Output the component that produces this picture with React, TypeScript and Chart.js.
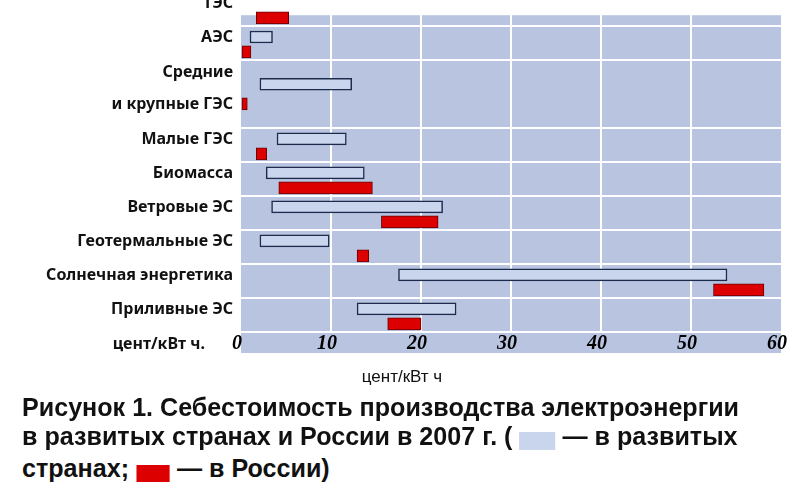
import React, { useEffect, useMemo, useRef } from 'react';
import { Chart, registerables } from 'chart.js';

Chart.register(...registerables);

// ---------- data ----------
const categories: (string | string[])[] = [
  'ТЭС',
  'АЭС',
  ['Средние', 'и крупные ГЭС'],
  'Малые ГЭС',
  'Биомасса',
  'Ветровые ЭС',
  'Геотермальные ЭС',
  'Солнечная энергетика',
  'Приливные ЭС',
];
const rowSpans = [1, 1, 2, 1, 1, 1, 1, 1, 1];
const developedLow: (number | null)[] = [null, 1.0, 2.1, 4.0, 2.8, 3.4, 2.1, 17.5, 12.9];
const developedHigh: (number | null)[] = [null, 3.5, 12.3, 11.7, 13.7, 22.4, 9.8, 54.0, 23.9];
const russiaLow = [1.7, 0, 0, 1.7, 4.2, 15.6, 12.9, 52.5, 16.3];
const russiaHigh = [5.3, 1.1, 0.7, 2.85, 14.6, 21.9, 14.2, 58.1, 20.0];
const xTickValues = [0, 10, 20, 30, 40, 50, 60];
const unitTitle = 'цент/кВт ч';
const unitSideLabel = 'цент/кВт ч.';
const captionLine1 = 'Рисунок 1. Себестоимость производства электроэнергии';
const captionLine2a = 'в развитых странах и России в 2007 г. (';
const captionLine2b = '— в развитых';
const captionLine3a = 'странах;';
const captionLine3b = '— в России)';

// ---------- styles ----------
const PLOT_BG = '#b9c5e0';
const DEV_FILL = '#c9d5ec';
const DEV_BORDER = '#1c2a4c';
const RUS_FILL = '#dc0000';
const RUS_BORDER = '#6a0000';
const CAPTION_FONT = "'Liberation Sans', Arial, sans-serif";
const LABEL_FONT = "'Noto Sans', 'DejaVu Sans', sans-serif";

const FIRST_ROW = -1;
const Y_MIN = -1.15;
const PLOT_TOP_VALUE = -0.32;

export default function App() {
  const ref = useRef<HTMLCanvasElement>(null);

  const k = useMemo(() => {
    const c = document.createElement('canvas').getContext('2d');
    if (!c) return 1;
    c.font = `bold 25px ${CAPTION_FONT}`;
    const w = c.measureText(captionLine1).width;
    return w > 0 ? 717 / w : 1;
  }, []);

  useEffect(() => {
    const starts: number[] = [];
    let s = FIRST_ROW;
    rowSpans.forEach((sp) => {
      starts.push(s);
      s += sp;
    });
    const yMax = s;
    const devOff = (sp: number) => (sp === 1 ? 0.32 : 0.71);
    const rusOff = (sp: number) => (sp === 1 ? 0.76 : 1.29);
    const lblOff = (sp: number) => (sp === 1 ? 0.33 : 0.82);

    const devData: any[] = [];
    const rusData: any[] = [];
    categories.forEach((_, i) => {
      const lo = developedLow[i];
      const hi = developedHigh[i];
      if (lo !== null && hi !== null) devData.push({ y: starts[i] + devOff(rowSpans[i]), x: [lo, hi] });
      rusData.push({ y: starts[i] + rusOff(rowSpans[i]), x: [russiaLow[i], russiaHigh[i]] });
    });

    const tickDefs: { value: number; label: string | string[]; grid: boolean }[] = [];
    categories.forEach((c, i) => {
      tickDefs.push({ value: starts[i] + lblOff(rowSpans[i]), label: c, grid: false });
      if (starts[i] >= 0) tickDefs.push({ value: starts[i], label: '', grid: true });
    });
    tickDefs.push({ value: yMax, label: '', grid: true });
    tickDefs.sort((a, b) => a.value - b.value);

    const bgPlugin = {
      id: 'plotBg',
      beforeDraw(chart: any) {
        const { ctx, chartArea, scales } = chart;
        const top = scales.y.getPixelForValue(PLOT_TOP_VALUE);
        ctx.save();
        ctx.fillStyle = PLOT_BG;
        ctx.fillRect(chartArea.left, top, chartArea.right - chartArea.left, chartArea.bottom + 21 - top);
        ctx.restore();
      },
    };

    const chart = new Chart(ref.current!, {
      type: 'bar',
      data: {
        datasets: [
          {
            label: 'в развитых странах',
            data: devData,
            backgroundColor: DEV_FILL,
            borderColor: DEV_BORDER,
            borderWidth: 1.5,
            borderSkipped: false,
            barThickness: 12,
            grouped: false,
          } as any,
          {
            label: 'в России',
            data: rusData,
            backgroundColor: RUS_FILL,
            borderColor: RUS_BORDER,
            borderWidth: 1,
            borderSkipped: false,
            barThickness: 12,
            grouped: false,
          } as any,
        ],
      },
      options: {
        indexAxis: 'y',
        responsive: false,
        animation: false,
        devicePixelRatio: 1,
        layout: { padding: { top: 70, right: 19, bottom: 40, left: 0 } },
        plugins: {
          legend: { display: false },
          tooltip: { enabled: false },
          title: { display: false },
        },
        scales: {
          x: {
            type: 'linear',
            position: 'bottom',
            min: 0,
            max: 60,
            offset: false,
            afterBuildTicks: (sc: any) => {
              sc.ticks = xTickValues.map((v) => ({ value: v }));
            },
            afterFit: (sc: any) => {
              sc.height = 23;
            },
            ticks: {
              color: '#000',
              padding: 0,
              labelOffset: -4,
              font: { family: "'Liberation Serif', 'DejaVu Serif', serif", size: 20, style: 'italic', weight: 'bold' },
            },
            grid: {
              offset: false,
              drawTicks: false,
              lineWidth: 2,
              color: (ctx: any) =>
                ctx.tick && (ctx.tick.value === 0 || ctx.tick.value === 60) ? 'rgba(0,0,0,0)' : '#ffffff',
            },
            border: { display: false },
          },
          y: {
            type: 'linear',
            reverse: true,
            offset: false,
            min: Y_MIN,
            max: yMax,
            afterBuildTicks: (sc: any) => {
              sc.ticks = tickDefs.map((t) => ({ value: t.value }));
            },
            afterFit: (sc: any) => {
              sc.width = 241;
            },
            ticks: {
              autoSkip: false,
              color: '#111',
              padding: 8,
              font: { family: LABEL_FONT, size: 16, weight: 'bold', lineHeight: 2.0 },
              callback: (_v: any, idx: number) => tickDefs[idx].label,
            },
            grid: {
              offset: false,
              drawTicks: false,
              lineWidth: 2,
              color: (ctx: any) => (tickDefs[ctx.index] && tickDefs[ctx.index].grid ? '#ffffff' : 'rgba(0,0,0,0)'),
            },
            border: { display: false },
          },
        },
      },
      plugins: [bgPlugin],
    } as any);

    return () => chart.destroy();
  }, []);

  const sq = (color: string, w: number, h: number) => (
    <span
      style={{ display: 'inline-block', width: w / k, height: h, background: color, verticalAlign: '-5px' }}
    />
  );

  const lineStyle = (top: number): React.CSSProperties => ({
    position: 'absolute',
    left: 22,
    top,
    font: `bold 25px ${CAPTION_FONT}`,
    lineHeight: '30px',
    color: '#111',
    whiteSpace: 'nowrap',
    transform: `scaleX(${k})`,
    transformOrigin: '0 0',
  });

  return (
    <div style={{ position: 'absolute', left: 0, top: 0, width: 800, height: 496, overflow: 'hidden', background: '#fff' }}>
      <canvas
        ref={ref}
        width={800}
        height={478}
        style={{ position: 'absolute', left: 0, top: -83, width: 800, height: 478 }}
      />
      <div
        style={{
          position: 'absolute',
          left: 0,
          top: 334,
          width: 205,
          textAlign: 'right',
          font: `bold 16px ${LABEL_FONT}`,
          lineHeight: '18px',
          color: '#111',
          whiteSpace: 'nowrap',
        }}
      >
        {unitSideLabel}
      </div>
      <div
        style={{
          position: 'absolute',
          left: 302,
          top: 367,
          width: 200,
          textAlign: 'center',
          font: `17px ${CAPTION_FONT}`,
          lineHeight: '20px',
          color: '#111',
          whiteSpace: 'nowrap',
        }}
      >
        {unitTitle}
      </div>
      <div style={lineStyle(392)}>{captionLine1}</div>
      <div style={lineStyle(421)}>
        {captionLine2a} {sq(DEV_FILL, 36, 18)} {captionLine2b}
      </div>
      <div style={lineStyle(453)}>
        {captionLine3a} {sq(RUS_FILL, 34, 17)} {captionLine3b}
      </div>
    </div>
  );
}
